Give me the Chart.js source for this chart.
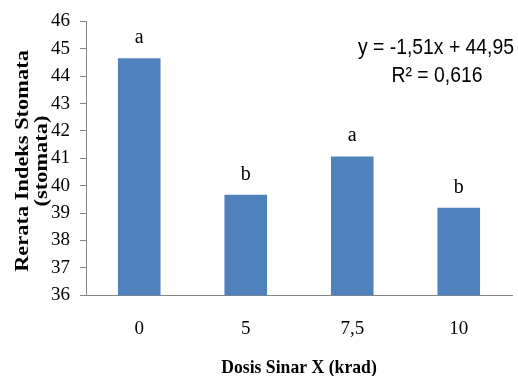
<!DOCTYPE html>
<html>
<head>
<meta charset="utf-8">
<script src="https://cdn.jsdelivr.net/npm/chart.js@4"></script>
<style>
  html, body { margin: 0; padding: 0; background: #fff; }
  #wrap { width: 518px; height: 376px; }
</style>
</head>
<body>
<div id="wrap"><canvas id="chart_stomata"></canvas></div>
<script>
// data
var dosis = ["0", "5", "7,5", "10"];
var indeks = [44.65, 39.67, 41.07, 39.19];
var notasi = ["a", "b", "a", "b"];
var yTicks = [36, 46, 1]; // min, max, step

var barColor = "#4f81bd";
var axisColor = "#868686";
var serif = "'Liberation Serif', 'Times New Roman', serif";
var sans = "'Liberation Sans', Arial, sans-serif";

// text helper: scaled / rotated text
function teks(ctx, str, x, y, font, sx, rot) {
	ctx.save();
	ctx.translate(x, y);
	if (rot) ctx.rotate(rot);
	ctx.scale(sx, 1);
	ctx.font = font;
	ctx.fillStyle = "#000";
	ctx.textAlign = "center";
	ctx.textBaseline = "alphabetic";
	ctx.fillText(str, 0, 0);
	ctx.restore();
}

var labelPlugin = {
	id: "labelPlugin",
	afterDatasetsDraw: function(chart) {
		var ctx = chart.ctx;
		var meta = chart.getDatasetMeta(0);
		meta.data.forEach(function(bar, i) {
			teks(ctx, notasi[i], bar.x, bar.y - 15, "20px " + serif, 1, 0);
		});
	},
	afterDraw: function(chart) {
		var ctx = chart.ctx;
		var area = chart.chartArea;
		// trendline equation
		teks(ctx, "y = -1,51x + 44,95", 436, 54, "22px " + sans, 0.88, 0);
		teks(ctx, "R² = 0,616", 437, 81.5, "22px " + sans, 0.88, 0);
		// axis titles
		var cy = 161;
		teks(ctx, "Rerata Indeks Stomata", 28, cy, "bold 19px " + serif, 1.18, -Math.PI / 2);
		teks(ctx, "(stomata)", 47, cy, "bold 19px " + serif, 1.18, -Math.PI / 2);
		teks(ctx, "Dosis Sinar X (krad)", (area.left + area.right) / 2, 373, "bold 19px " + serif, 0.93, 0);
	}
};

var ctx = document.getElementById("chart_stomata").getContext("2d");
var myChart = new Chart(ctx, {
	type: "bar",
	data: {
		labels: dosis,
		datasets: [{
			data: indeks,
			backgroundColor: barColor,
			borderWidth: 0,
			barPercentage: 0.4,
			categoryPercentage: 1
		}]
	},
	options: {
		responsive: true,
		maintainAspectRatio: false,
		animation: false,
		layout: { padding: { left: 41, right: 6, top: 14, bottom: 22 } },
		plugins: {
			legend: { display: false },
			tooltip: { enabled: false }
		},
		scales: {
			x: {
				grid: { display: false },
				border: { display: true, color: axisColor, width: 1 },
				ticks: { color: "#000", padding: 14, font: { family: serif, size: 19 } }
			},
			y: {
				min: yTicks[0],
				max: yTicks[1],
				grid: { drawOnChartArea: false, drawTicks: true, tickLength: 6, color: axisColor },
				border: { display: true, color: axisColor, width: 1 },
				ticks: { stepSize: yTicks[2], autoSkip: false, color: "#000", padding: 10, font: { family: serif, size: 19 } }
			}
		}
	},
	plugins: [labelPlugin]
});
</script>
</body>
</html>
